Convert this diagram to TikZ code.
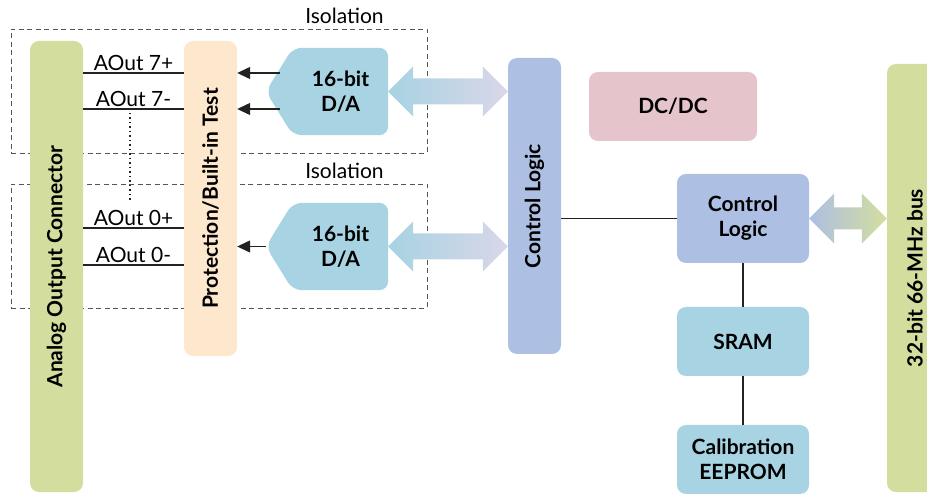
\documentclass[tikz,border=0pt]{standalone}
\usepackage{fontspec}
\setmainfont{Lato}
\usetikzlibrary{arrows.meta,calc,backgrounds}

\definecolor{conngreen}{HTML}{D3DE9E}
\definecolor{protpeach}{HTML}{FDE7CD}
\definecolor{dablue}{HTML}{A7D3E2}
\definecolor{ctlblue}{HTML}{ADBFE3}
\definecolor{dcpink}{HTML}{E6C4CB}
\definecolor{lavender}{HTML}{D9D7E9}
\definecolor{isogray}{HTML}{555555}
\definecolor{wiregray}{HTML}{222222}

\newcommand\blkfont{\fontsize{21}{25}\selectfont\bfseries}
\newcommand\txtfont{\fontsize{21}{24}\selectfont}

% wide double arrow: left tip, right tip, shaft half width, left colour, right colour
\newcommand\widearrow[5]{%
  \shade[left color=#4, right color=#5]
    (#1) -- ++(25,-25) -- ++(0,25-#3) -- ($(#2)+(-25,-#3)$) -- ++(0,#3-25)
    -- (#2) -- ++(-25,25) -- ++(0,#3-25) -- ($(#1)+(25,#3)$) -- ++(0,25-#3) -- cycle;}

\tikzset{
  blk/.style={rounded corners=9pt, inner sep=0pt, align=center, font=\blkfont, text=black},
  bar/.style={blk, minimum width=53pt},
  dabox/.style={blk, minimum width=95pt, minimum height=87pt},
  isobox/.style={draw=isogray, dash pattern=on 5pt off 3.5pt, line width=0.9pt,
    minimum width=416pt, minimum height=124pt, inner sep=0pt},
  isotxt/.style={font=\txtfont, inner sep=1pt, anchor=south},
  wire/.style={draw=wiregray, line width=1.3pt},
  feed/.style={wire, -{Triangle[length=13pt,width=12pt]}},
  pin/.style={font=\txtfont, inner sep=2pt, above}
}

\begin{document}
\begin{tikzpicture}[x=1pt, y=-1pt]
    \useasboundingbox (0,0) rectangle (927,494);
    \clip (0,0) rectangle (927,494);

    % Isolation boxes
    \node (iso7) [isobox] at (219,91) {};
    \node (iso0) [isobox] at (219,246) {};
    \node (isolbl7) [isotxt] at ([xshift=-83pt,yshift=4pt]iso7.north east) {Isolation};
    \node (isolbl0) [isotxt] at ([xshift=-83pt,yshift=4pt]iso0.north east) {Isolation};

    % Bars and blocks
    \node (conn) [bar, fill=conngreen, minimum height=451pt,
      label={[rotate=90, font=\blkfont]center:Analog Output Connector}] at (56.5,266.5) {};
    \node (prot) [bar, fill=protpeach, minimum height=315pt,
      label={[rotate=90, font=\blkfont]center:Protection/Built-in Test}] at (210.5,198.5) {};
    \node (ctl) [bar, fill=ctlblue, minimum height=296pt,
      label={[rotate=90, font=\blkfont]center:Control Logic}] at (534.5,206) {};
    \node (bus) [bar, fill=conngreen, minimum width=56pt, minimum height=428pt,
      label={[rotate=90, font=\blkfont]center:32-bit 66-MHz bus}] at (915,278) {};

    \node (da7) [dabox] at (340.5,91.5) {16-bit\\D/A};
    \node (da0) [dabox] at (340.5,246.5) {16-bit\\D/A};
    \begin{scope}[on background layer]
      \foreach \d in {da7,da0}
        \fill[dablue, rounded corners=9pt] (\d.north) -- (\d.north east) -- (\d.south east)
          -- (\d.south west) -- ([xshift=-27pt]\d.west) -- (\d.north west) -- cycle;
    \end{scope}

    \node (dcdc) [blk, fill=dcpink, minimum width=168pt, minimum height=69pt] at (673,106.5) {DC/DC};
    \node (ctl2) [blk, fill=ctlblue, minimum width=132pt, minimum height=89pt] at (743,218.5) {Control\\Logic};
    \node (sram) [blk, fill=dablue, minimum width=132pt, minimum height=69pt] at (743,341.5) {SRAM};
    \node (eeprom) [blk, fill=dablue, minimum width=132pt, minimum height=69pt] at (743,459.5) {Calibration\\EEPROM};

    % Output rows
    \coordinate (r7p) at (0,73);
    \coordinate (r7m) at (0,109);
    \coordinate (r0p) at (0,228);
    \coordinate (r0m) at (0,265);
    \draw[wire] (conn.east |- r7p) -- node[pin] {AOut 7+} (prot.west |- r7p);
    \draw[wire] (conn.east |- r7m) -- node[pin] {AOut 7-} (prot.west |- r7m);
    \draw[wire] (conn.east |- r0p) -- node[pin] {AOut 0+} (prot.west |- r0p);
    \draw[wire] (conn.east |- r0m) -- node[pin] {AOut 0-} (prot.west |- r0m);

    \coordinate (dtop) at (130,113);
    \coordinate (dbot) at (130,200);
    \draw[wiregray, line width=1.5pt, dash pattern=on 1.5pt off 3pt] (dtop) -- (dbot);

    % D/A outputs
    \draw[feed] ([xshift=-13pt]da7.west |- r7p) -- (prot.east |- r7p);
    \draw[feed] ([xshift=-13pt]da7.west |- r7m) -- (prot.east |- r7m);
    \draw[feed] ([xshift=-27pt]da0.west) -- (prot.east |- da0.west);

    % Wide buses
    \widearrow{da7.east}{ctl.west |- da7.east}{13}{dablue}{lavender}
    \widearrow{da0.east}{ctl.west |- da0.east}{13}{dablue}{lavender}
    \widearrow{ctl2.east}{bus.west |- ctl2.east}{11}{ctlblue}{conngreen}

    % Control links
    \draw[wire] (ctl.east |- ctl2.west) -- (ctl2.west);
    \draw[wire] (ctl2.south) -- (sram.north);
    \draw[wire] (sram.south) -- (eeprom.north);
\end{tikzpicture}
\end{document}
